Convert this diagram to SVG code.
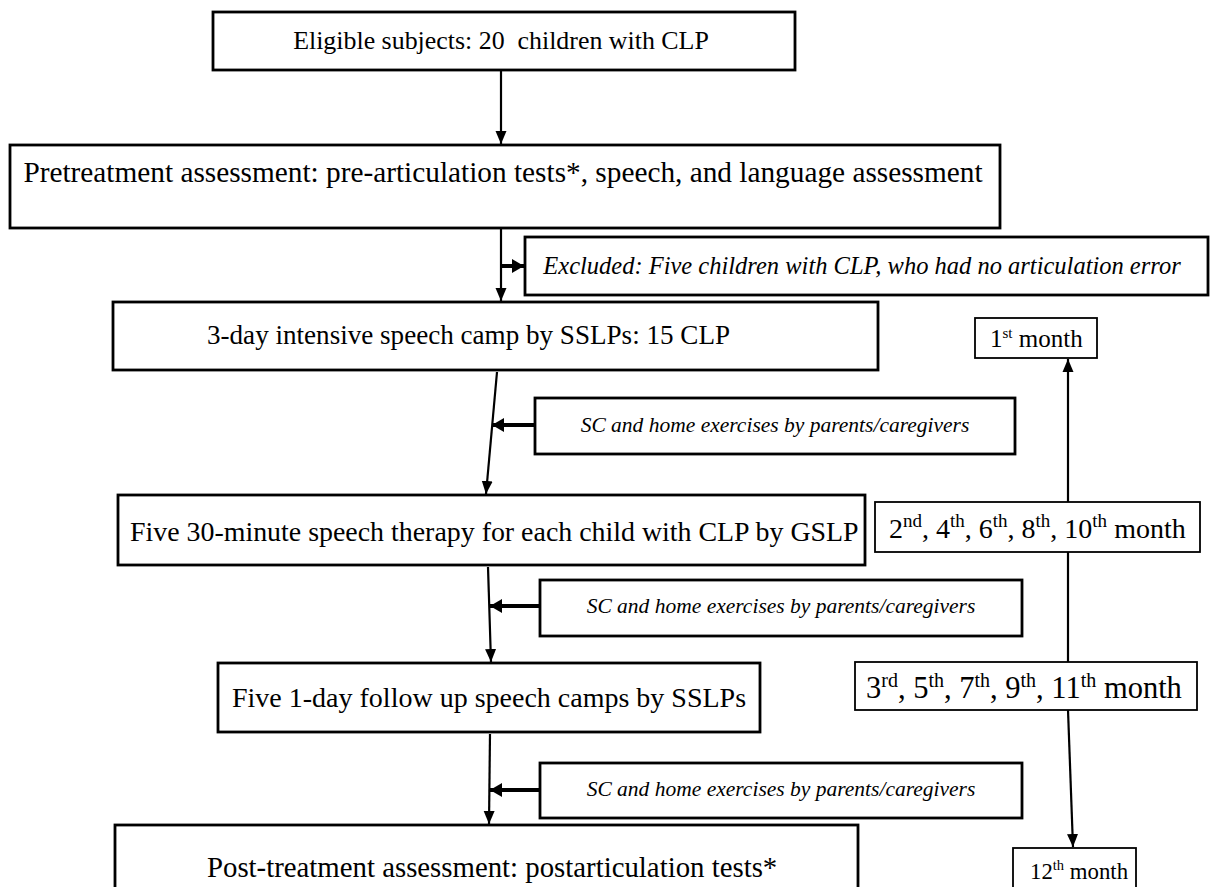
<svg xmlns="http://www.w3.org/2000/svg" width="1210" height="887" viewBox="0 0 1210 887">
<style>
.box{fill:#fff;stroke:#000;stroke-width:2.8}
.mbox{fill:#fff;stroke:#000;stroke-width:1.8}
.t{font-family:"Liberation Serif","Times New Roman",serif;fill:#000}
.ti{font-family:"Liberation Serif","Times New Roman",serif;font-style:italic;fill:#000}
.c{stroke:#000;stroke-width:2.2;fill:none}
.ct{stroke:#000;stroke-width:4;fill:none}
</style>
<defs>
<marker id="ah" markerUnits="userSpaceOnUse" markerWidth="14" markerHeight="14" viewBox="0 0 14 14" refX="13" refY="7" orient="auto">
<path d="M0,1.5 L13,7 L0,12.5 Z" fill="#000"/>
</marker>
<marker id="ahs" markerUnits="userSpaceOnUse" markerWidth="14" markerHeight="16" viewBox="0 0 14 16" refX="12" refY="8" orient="auto">
<path d="M0,1 L12,8 L0,15 Z" fill="#000"/>
</marker>
</defs>
<rect width="1210" height="887" fill="#fff"/>
<g id="connectors">
<line class="c" x1="501" y1="70" x2="501" y2="144" marker-end="url(#ah)"/>
<line class="c" x1="501" y1="228" x2="501" y2="301" marker-end="url(#ah)"/>
<line class="ct" x1="501" y1="266" x2="524" y2="266" marker-end="url(#ahs)"/>
<line class="c" x1="497" y1="372" x2="486" y2="494" marker-end="url(#ah)"/>
<line class="ct" x1="535" y1="425" x2="492" y2="425" marker-end="url(#ahs)"/>
<line class="c" x1="488" y1="567" x2="491" y2="662" marker-end="url(#ah)"/>
<line class="ct" x1="540" y1="606" x2="490" y2="606" marker-end="url(#ahs)"/>
<line class="c" x1="490" y1="734" x2="489" y2="824" marker-end="url(#ah)"/>
<line class="ct" x1="540" y1="790" x2="490" y2="790" marker-end="url(#ahs)"/>
<line class="c" x1="1068" y1="502" x2="1068" y2="359" marker-end="url(#ah)"/>
<line class="c" x1="1068" y1="552" x2="1068" y2="662"/>
<line class="c" x1="1068" y1="710" x2="1073" y2="847" marker-end="url(#ah)"/>
</g>
<g id="n1"><rect class="box" x="213" y="12" width="582" height="58"/><text class="t" x="501" y="49" text-anchor="middle" font-size="25.9" xml:space="preserve">Eligible subjects: 20  children with CLP</text></g>
<g id="n2"><rect class="box" x="10" y="145" width="990" height="83"/><text class="t" x="503" y="182" text-anchor="middle" font-size="29.3">Pretreatment assessment: pre-articulation tests*, speech, and language assessment</text></g>
<g id="n3"><rect class="box" x="525" y="237" width="683" height="58"/><text class="ti" x="862" y="274" text-anchor="middle" font-size="24.5">Excluded: Five children with CLP, who had no articulation error</text></g>
<g id="n4"><rect class="box" x="113" y="302" width="765" height="68"/><text class="t" x="207" y="344" font-size="27.1">3-day intensive speech camp by SSLPs: 15 CLP</text></g>
<g id="n5"><rect class="mbox" x="975" y="318" width="122" height="40"/><text class="t" x="990" y="347" font-size="25">1<tspan font-size="15" dy="-9">st</tspan><tspan dy="9"> month</tspan></text></g>
<g id="n6"><rect class="box" x="535" y="398" width="480" height="56"/><text class="ti" x="775" y="432" text-anchor="middle" font-size="21.5">SC and home exercises by parents/caregivers</text></g>
<g id="n7"><rect class="box" x="118" y="495" width="747" height="70"/><text class="t" x="130" y="541" font-size="27.9">Five 30-minute speech therapy for each child with CLP by GSLP</text></g>
<g id="n8"><rect class="mbox" x="875" y="502" width="325" height="50"/><text class="t" x="889" y="538" font-size="28">2<tspan font-size="19" dy="-11">nd</tspan><tspan dy="11">, 4</tspan><tspan font-size="19" dy="-11">th</tspan><tspan dy="11">, 6</tspan><tspan font-size="19" dy="-11">th</tspan><tspan dy="11">, 8</tspan><tspan font-size="19" dy="-11">th</tspan><tspan dy="11">, 10</tspan><tspan font-size="19" dy="-11">th</tspan><tspan dy="11"> month</tspan></text></g>
<g id="n9"><rect class="box" x="540" y="580" width="482" height="56"/><text class="ti" x="781" y="613" text-anchor="middle" font-size="21.5">SC and home exercises by parents/caregivers</text></g>
<g id="n10"><rect class="box" x="218" y="663" width="542" height="69"/><text class="t" x="232" y="707" font-size="28">Five 1-day follow up speech camps by SSLPs</text></g>
<g id="n11"><rect class="mbox" x="855" y="662" width="342" height="48"/><text class="t" x="866" y="698" font-size="30.5">3<tspan font-size="20" dy="-11">rd</tspan><tspan dy="11">, 5</tspan><tspan font-size="20" dy="-11">th</tspan><tspan dy="11">, 7</tspan><tspan font-size="20" dy="-11">th</tspan><tspan dy="11">, 9</tspan><tspan font-size="20" dy="-11">th</tspan><tspan dy="11">, 11</tspan><tspan font-size="20" dy="-11">th</tspan><tspan dy="11"> month</tspan></text></g>
<g id="n12"><rect class="box" x="540" y="763" width="482" height="55"/><text class="ti" x="781" y="796" text-anchor="middle" font-size="21.5">SC and home exercises by parents/caregivers</text></g>
<g id="n13"><rect class="box" x="115" y="825" width="743" height="70"/><text class="t" x="207" y="877" font-size="28.8">Post-treatment assessment: postarticulation tests*</text></g>
<g id="n14"><rect class="mbox" x="1013" y="848" width="123" height="45"/><text class="t" x="1030" y="879" font-size="22.8">12<tspan font-size="14.5" dy="-9">th</tspan><tspan dy="9"> month</tspan></text></g>
</svg>
